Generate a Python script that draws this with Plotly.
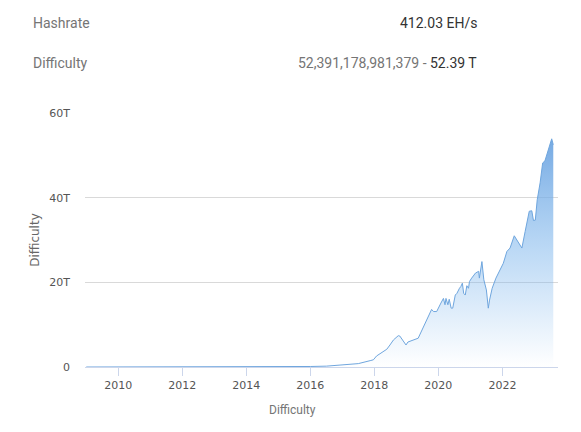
import datetime as dt
import plotly.graph_objects as go

# Difficulty series (decimal year, value in T)
years = [2009.0, 2010.0, 2011.0, 2012.0, 2013.0, 2014.0, 2015.0, 2016.0, 2016.5,
         2017.1, 2017.5, 2017.87, 2017.97, 2018.07, 2018.18, 2018.39, 2018.49, 2018.6,
         2018.75, 2018.8, 2018.99, 2019.05, 2019.37, 2019.5, 2019.65, 2019.79, 2019.85,
         2019.95, 2020.08, 2020.16, 2020.21, 2020.24, 2020.3, 2020.34, 2020.4, 2020.45,
         2020.53, 2020.58, 2020.66, 2020.7, 2020.75, 2020.79, 2020.84, 2020.89, 2020.94,
         2020.97, 2021.04, 2021.09, 2021.16, 2021.26, 2021.28, 2021.36, 2021.39, 2021.42,
         2021.5, 2021.56, 2021.6, 2021.68, 2021.8, 2021.93, 2022.03, 2022.14, 2022.24,
         2022.37, 2022.45, 2022.61, 2022.71, 2022.84, 2022.92, 2022.97, 2023.03, 2023.09,
         2023.18, 2023.26, 2023.33, 2023.39, 2023.47, 2023.54, 2023.59]
difficulty_t = [0.0, 0.0, 0.0, 0.0, 0.0, 0.002, 0.04, 0.12, 0.2,
                0.6, 0.8, 1.5, 1.7, 2.6, 3.1, 4.2, 5.2, 6.4,
                7.4, 7.3, 5.2, 5.9, 6.8, 8.8, 11.1, 13.6, 13.1,
                13.1, 15.1, 16.2, 14.7, 16.2, 14.7, 16.0, 13.9, 13.9,
                17.0, 17.4, 18.6, 19.0, 19.8, 17.4, 17.0, 19.2, 18.6,
                20.2, 21.0, 21.4, 22.2, 22.6, 21.0, 24.9, 21.8, 20.6,
                18.2, 13.9, 15.8, 18.6, 21.0, 22.8, 24.5, 27.3, 28.1,
                31.0, 30.1, 28.1, 32.0, 36.8, 36.9, 34.6, 34.7, 39.5,
                43.5, 48.2, 48.7, 50.2, 51.8, 53.9, 52.5]

y_tickvals = [0, 20, 40, 60]
y_ticktext = ["0", "20T", "40T", "60T"]
x_tickvals = ["2010-01-01", "2012-01-01", "2014-01-01", "2016-01-01",
              "2018-01-01", "2020-01-01", "2022-01-01"]
x_ticktext = ["2010", "2012", "2014", "2016", "2018", "2020", "2022"]


def to_date(y):
    year = int(y)
    start = dt.datetime(year, 1, 1)
    end = dt.datetime(year + 1, 1, 1)
    return (start + (end - start) * (y - year)).strftime("%Y-%m-%d")


dates = [to_date(y) for y in years]

fig = go.Figure()
fig.add_trace(go.Scatter(
    x=dates, y=difficulty_t, mode="lines",
    line=dict(color="rgb(111,166,222)", width=1),
    fill="tozeroy",
    fillgradient=dict(type="vertical",
                      colorscale=[[0, "rgba(124,181,236,0.0)"],
                                  [0.5, "rgba(124,181,236,0.5)"],
                                  [1, "rgba(110,165,225,0.95)"]]),
    hoverinfo="skip",
))

L, R, T, B = 85, 23, 113, 65
W, H = 581, 432
pw, ph = W - L - R, H - T - B


def px(x):
    return (x - L) / pw


def py(y):
    return (H - B - y) / ph


fig.update_layout(
    width=W, height=H,
    margin=dict(l=L, r=R, t=T, b=B),
    paper_bgcolor="white", plot_bgcolor="white",
    showlegend=False,
    font=dict(family="DejaVu Sans", color="#666666", size=11),
    xaxis=dict(
        type="date",
        range=["2008-12-18", "2023-09-27"],
        tickvals=x_tickvals, ticktext=x_ticktext,
        showgrid=False, showline=True, linecolor="#ccd6eb", linewidth=1,
        ticks="outside", ticklen=8, tickcolor="#ccd6eb",
        tickfont=dict(family="DejaVu Sans", size=11, color="#555555"),
        zeroline=False, fixedrange=True,
    ),
    yaxis=dict(
        range=[0, 60],
        tickvals=y_tickvals, ticktext=y_ticktext,
        showgrid=True, gridcolor="#d9d9d9", gridwidth=1,
        zeroline=False, showline=False,
        ticks="", ticklabelstandoff=14,
        tickfont=dict(family="DejaVu Sans", size=11, color="#555555"),
        title=dict(text="Difficulty", font=dict(family="DejaVu Sans", size=12, color="#666666"),
                   standoff=7),
        fixedrange=True,
    ),
    annotations=[
        dict(text="Hashrate", x=px(31), y=py(23.5), xref="paper", yref="paper",
             xanchor="left", yanchor="middle", showarrow=False,
             font=dict(family="Roboto", size=14, color="#757575")),
        dict(text="412.03 EH/s", x=px(479), y=py(23.5), xref="paper", yref="paper",
             xanchor="right", yanchor="middle", showarrow=False,
             font=dict(family="Roboto", size=14, color="#333333")),
        dict(text="Difficulty", x=px(31), y=py(63), xref="paper", yref="paper",
             xanchor="left", yanchor="middle", showarrow=False,
             font=dict(family="Roboto", size=14, color="#757575")),
        dict(text="52,391,178,981,379 - <span style='color:#333333'>52.39 T</span>",
             x=px(479), y=py(63), xref="paper", yref="paper",
             xanchor="right", yanchor="middle", showarrow=False,
             font=dict(family="Roboto", size=14, color="#757575")),
        dict(text="Difficulty", x=px(292), y=py(410), xref="paper", yref="paper",
             xanchor="center", yanchor="middle", showarrow=False,
             font=dict(family="Roboto", size=12, color="#757575")),
    ],
)

fig.write_html("out.html", config={"displayModeBar": False},
               post_script="document.body.style.margin='0';")
